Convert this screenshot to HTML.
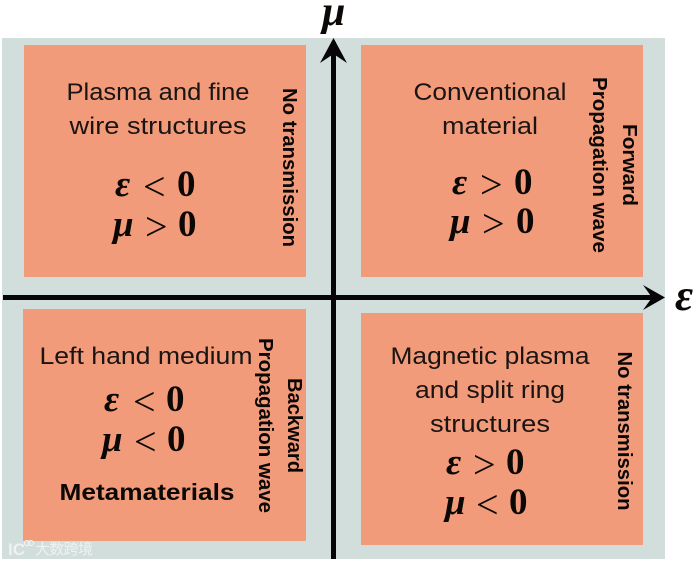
<!DOCTYPE html>
<html><head><meta charset="utf-8"><style>
html,body{margin:0;padding:0;background:#fff}
svg{display:block;filter:blur(.35px)}
.t{font:24px "Liberation Sans",sans-serif;fill:#1a1412;text-anchor:middle}
.b{font:bold 20px "Liberation Sans",sans-serif;fill:#0c0806;text-anchor:middle}
.m{font:bold 37px "Liberation Serif",serif;fill:#0c0806}
.m .v{font-style:italic;font-size:37px}
.m .o{font-weight:normal;font-size:40px}
.r{fill:#f29b7a}
</style></head><body>
<svg width="700" height="562" viewBox="0 0 700 562" xmlns="http://www.w3.org/2000/svg">
<rect width="700" height="562" fill="#fff"/>
<rect x="2" y="38" width="663" height="521" fill="#d1dedc"/>
<rect class="r" x="24" y="45" width="282" height="232"/>
<rect class="r" x="361" y="45" width="282" height="232"/>
<rect class="r" x="23" y="309" width="283" height="232"/>
<rect class="r" x="361" y="313" width="282" height="232"/>

<rect x="331" y="42" width="5" height="517" fill="#060606"/>
<rect x="3" y="295" width="656" height="5" fill="#060606"/>
<polygon points="333.500,38 347,63 333.500,54 320,63" fill="#060606"/>
<polygon points="665,297.500 643,285 652,297.500 643,310" fill="#060606"/>

<text class="m" x="322" y="25" style="font-size:42px;font-style:italic">μ</text>
<text class="m" x="675" y="310" style="font-size:44px;font-style:italic">ε</text>

<text class="t" x="158" y="100" textLength="183" lengthAdjust="spacingAndGlyphs">Plasma and fine</text>
<text class="t" x="158" y="134" textLength="177" lengthAdjust="spacingAndGlyphs">wire structures</text>
<text class="m" y="196"><tspan class="v" x="115">ε</tspan><tspan class="o" x="143" dy="4">&lt;</tspan><tspan x="177" dy="-4">0</tspan></text>
<text class="m" y="236"><tspan class="v" x="113">μ</tspan><tspan class="o" x="145" dy="4">&gt;</tspan><tspan x="178" dy="-4">0</tspan></text>
<text class="b" transform="translate(283,167.500) rotate(90)" textLength="159" lengthAdjust="spacingAndGlyphs">No transmission</text>

<text class="t" x="490" y="100" textLength="153" lengthAdjust="spacingAndGlyphs">Conventional</text>
<text class="t" x="490" y="134" textLength="96" lengthAdjust="spacingAndGlyphs">material</text>
<text class="m" y="194"><tspan class="v" x="452">ε</tspan><tspan class="o" x="480" dy="4">&gt;</tspan><tspan x="514" dy="-4">0</tspan></text>
<text class="m" y="233"><tspan class="v" x="450">μ</tspan><tspan class="o" x="482" dy="4">&gt;</tspan><tspan x="516" dy="-4">0</tspan></text>
<text class="b" transform="translate(623,165) rotate(90)" textLength="82" lengthAdjust="spacingAndGlyphs">Forward</text>
<text class="b" transform="translate(593,165) rotate(90)" textLength="176" lengthAdjust="spacingAndGlyphs">Propagation wave</text>

<text class="t" x="146" y="364" textLength="213" lengthAdjust="spacingAndGlyphs">Left hand medium</text>
<text class="m" y="411"><tspan class="v" x="104">ε</tspan><tspan class="o" x="133" dy="4">&lt;</tspan><tspan x="166" dy="-4">0</tspan></text>
<text class="m" y="451"><tspan class="v" x="102">μ</tspan><tspan class="o" x="134" dy="4">&lt;</tspan><tspan x="167" dy="-4">0</tspan></text>
<text class="b" x="147" y="500" style="font-size:23px" textLength="175" lengthAdjust="spacingAndGlyphs">Metamaterials</text>
<text class="b" transform="translate(288,425.500) rotate(90)" textLength="95" lengthAdjust="spacingAndGlyphs">Backward</text>
<text class="b" transform="translate(259,425.500) rotate(90)" textLength="175" lengthAdjust="spacingAndGlyphs">Propagation wave</text>

<text class="t" x="490" y="364" textLength="199" lengthAdjust="spacingAndGlyphs">Magnetic plasma</text>
<text class="t" x="490" y="398" textLength="150" lengthAdjust="spacingAndGlyphs">and split ring</text>
<text class="t" x="490" y="432" textLength="120" lengthAdjust="spacingAndGlyphs">structures</text>
<text class="m" y="474"><tspan class="v" x="446">ε</tspan><tspan class="o" x="473" dy="4">&gt;</tspan><tspan x="506" dy="-4">0</tspan></text>
<text class="m" y="514"><tspan class="v" x="445">μ</tspan><tspan class="o" x="476" dy="4">&lt;</tspan><tspan x="509" dy="-4">0</tspan></text>
<text class="b" transform="translate(618,431) rotate(90)" textLength="159" lengthAdjust="spacingAndGlyphs">No transmission</text>

<text x="35" y="554" style="font:15px 'Noto Sans CJK SC','WenQuanYi Zen Hei',sans-serif;fill:#f4f6f6;opacity:.85" textLength="58">大数跨境</text>
<text x="8" y="555" style="font:bold 17px 'Liberation Sans',sans-serif;fill:#f4f6f6;opacity:.85">IC</text>
<circle cx="27" cy="543" r="2.500" fill="none" stroke="#f4f6f6" stroke-width="1"/>
<circle cx="31" cy="543" r="2.500" fill="none" stroke="#f4f6f6" stroke-width="1"/>
</svg>
</body></html>
